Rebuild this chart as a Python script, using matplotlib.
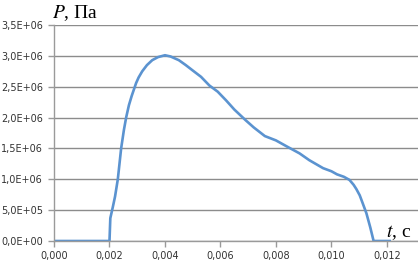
import matplotlib
matplotlib.use("Agg")
import matplotlib.pyplot as plt
from matplotlib.ticker import FuncFormatter, MultipleLocator

# time, ms -> seconds ; pressure, MPa -> Pa
t_ms = [0.0, 2.0, 2.03, 2.12, 2.2, 2.3, 2.42, 2.52, 2.6, 2.7, 2.8, 2.96, 3.05,
        3.18, 3.35, 3.54, 3.75, 4.0, 4.2, 4.5, 4.75, 4.98, 5.3, 5.6, 5.9, 6.2,
        6.5, 6.9, 7.2, 7.6, 8.0, 8.4, 8.85, 9.2, 9.7, 10.0, 10.2, 10.45, 10.65,
        10.8, 10.9, 11.02, 11.12, 11.26, 11.4, 11.52, 12.1]
p_mpa = [0.0, 0.0, 0.37, 0.55, 0.72, 1.0, 1.5, 1.8, 2.0, 2.2, 2.35, 2.56, 2.65,
         2.75, 2.85, 2.93, 2.98, 3.01, 2.99, 2.93, 2.85, 2.77, 2.66, 2.52, 2.42,
         2.28, 2.13, 1.96, 1.84, 1.70, 1.63, 1.53, 1.42, 1.31, 1.18, 1.13, 1.08,
         1.04, 0.99, 0.91, 0.84, 0.74, 0.62, 0.45, 0.22, 0.0, 0.0]

t = [v / 1000 for v in t_ms]
p = [v * 1e6 for v in p_mpa]

fig = plt.figure(figsize=(4.18, 2.63), dpi=100)
ax = fig.add_axes([54 / 418, 1 - 241 / 263, 1 - 54 / 418, (241 - 25) / 263])

ax.plot(t, p, color="#5B93D0", lw=1.9, solid_joinstyle="round")

ax.set_xlim(0, 13.12e-3)
ax.set_ylim(0, 3.5e6)
ax.xaxis.set_major_locator(MultipleLocator(0.002))
ax.yaxis.set_major_locator(MultipleLocator(5e5))

def xfmt(v, pos):
    if v > 0.0121:
        return ""
    return f"{v:.3f}".replace(".", ",")

def yfmt(v, pos):
    return f"{v:.1E}".replace(".", ",")

ax.xaxis.set_major_formatter(FuncFormatter(xfmt))
ax.yaxis.set_major_formatter(FuncFormatter(yfmt))

ax.grid(axis="y", color="#8C8C8C", lw=1.0)
ax.set_axisbelow(True)
for s in ["top", "right"]:
    ax.spines[s].set_visible(False)
for s in ["left", "bottom"]:
    ax.spines[s].set_color("#9A9A9A")
    ax.spines[s].set_linewidth(1.0)

ax.tick_params(axis="both", labelsize=7, colors="#9A9A9A", labelcolor="#333333",
               length=4, width=1.0)
ax.tick_params(axis="x", pad=3)
ax.tick_params(axis="y", pad=4)
for lab in ax.get_xticklabels() + ax.get_yticklabels():
    lab.set_fontfamily("DejaVu Sans")

fig.text(52 / 418, 1 - 13 / 263, "$\\mathit{P}$, Па", fontsize=14,
         family="Liberation Serif", va="center", ha="left",
         math_fontfamily="stix")
fig.text(386 / 418, 1 - 233 / 263, "$\\mathit{t}$, с", fontsize=14,
         family="Liberation Serif", va="center", ha="left",
         math_fontfamily="stix")

fig.savefig("out.png", dpi=100)
